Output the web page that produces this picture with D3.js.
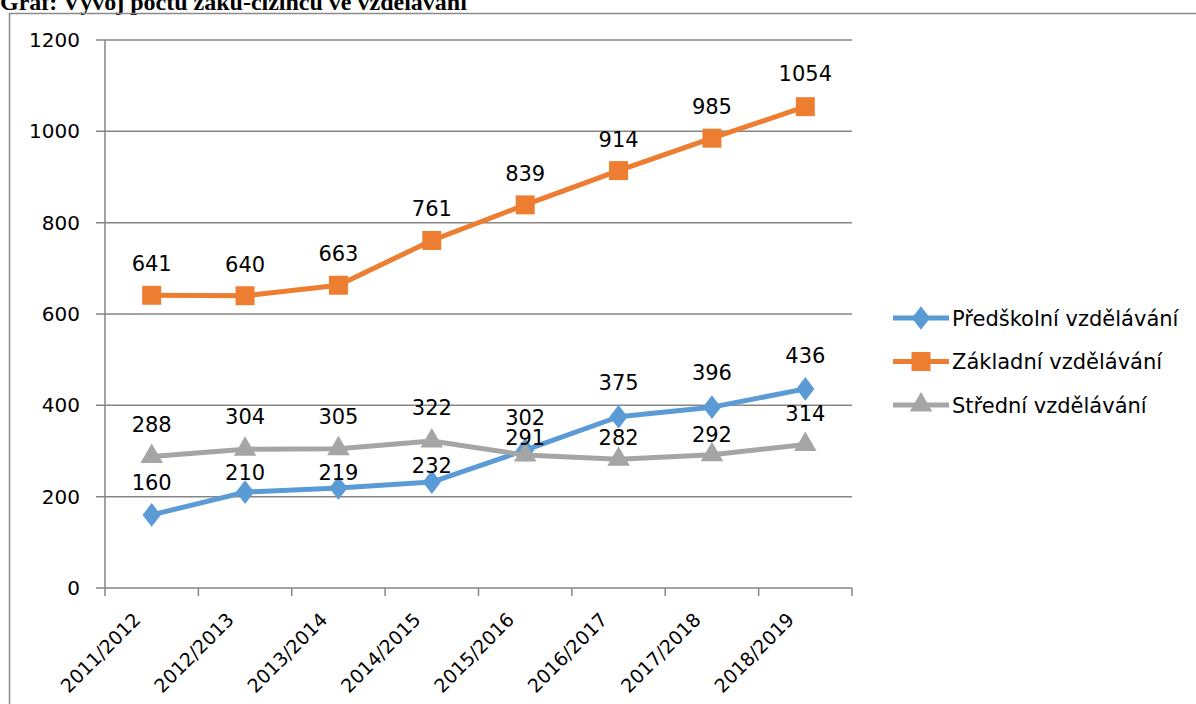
<!DOCTYPE html>
<html><head><meta charset="utf-8">
<script src="https://cdn.jsdelivr.net/npm/d3@7"></script>
<style>body{margin:0;background:#fff;} svg{display:block;}</style>
</head><body>
<svg id="c" width="1196" height="704"></svg>
<script>
const title = "Graf: Vývoj počtu žáků-cizinců ve vzdělávání";
const categories = ["2011/2012","2012/2013","2013/2014","2014/2015","2015/2016","2016/2017","2017/2018","2018/2019"];
const seriesNames = ["Předškolní vzdělávání","Základní vzdělávání","Střední vzdělávání"];
const predskolni = [160,210,219,232,302,375,396,436];
const zakladni = [641,640,663,761,839,914,985,1054];
const stredni = [288,304,305,322,291,282,292,314];
const yTicks = [0,200,400,600,800,1000,1200];
const colors = ["#5B9BD5","#ED7D31","#A5A5A5"];
const markers = [d3.symbolDiamond, d3.symbolSquare, d3.symbolTriangle];

(function(){
// label lift above each point (px), as placed in the original chart
const labelLift = [
  [25,12,8,9,25,27,27,26],
  [24,24,24,24,24,24,24,26],
  [24,25,25,26,10,14,13,24]
];
const series = [predskolni, zakladni, stredni].map((v,i)=>({name:seriesNames[i], values:v, color:colors[i], marker:markers[i], idx:i}));

const svg = d3.select("#c");
const font = "'DejaVu Sans', sans-serif";

svg.append("text").attr("x",0).attr("y",10)
  .attr("font-family","'Liberation Serif', serif").attr("font-weight","bold").attr("font-size",24)
  .attr("fill","#000").text(title);

svg.append("rect").attr("x",9.5).attr("y",13.5).attr("width",1300).attr("height",800)
  .attr("fill","none").attr("stroke","#8a8a8a").attr("stroke-width",1.5);

const pl=105, pr=852, pt=40, pb=588;
const x = d3.scaleBand().domain(categories).range([pl,pr]);
const y = d3.scaleLinear().domain([0,1200]).range([pb,pt]);
const cx = c => x(c)+x.bandwidth()/2;

svg.append("g").selectAll("line").data(yTicks).join("line")
  .attr("x1",pl-9).attr("x2",pr).attr("y1",d=>y(d)).attr("y2",d=>y(d))
  .attr("stroke","#868686").attr("stroke-width",1.5);
svg.append("line").attr("x1",pl).attr("x2",pl).attr("y1",pt).attr("y2",pb)
  .attr("stroke","#868686").attr("stroke-width",1.5);
const bounds = categories.map(c=>x(c)).concat([pr]);
svg.append("g").selectAll("line").data(bounds).join("line")
  .attr("x1",d=>d).attr("x2",d=>d).attr("y1",pb).attr("y2",pb+8)
  .attr("stroke","#868686").attr("stroke-width",1.5);

svg.append("g").selectAll("text").data(yTicks).join("text")
  .attr("x",80).attr("y",d=>y(d)+7).attr("text-anchor","end")
  .attr("font-family",font).attr("font-size",20).attr("fill","#000").text(d=>d);

svg.append("g").selectAll("text").data(categories).join("text")
  .attr("transform",c=>`translate(${cx(c)-10},${pb+33}) rotate(-45)`)
  .attr("text-anchor","end").attr("font-family",font).attr("font-size",19).attr("fill","#000").text(c=>c);

const line = d3.line().x((d,i)=>cx(categories[i])).y(d=>y(d));
const symSize = i => i===1?360:(i===0?200:220);
series.forEach(s=>{
  svg.append("path").datum(s.values).attr("d",line).attr("fill","none")
    .attr("stroke",s.color).attr("stroke-width",5).attr("stroke-linejoin","round");
  svg.append("g").selectAll("path").data(s.values).join("path")
    .attr("d", d3.symbol().type(s.marker).size(symSize(s.idx)))
    .attr("transform",(d,i)=>`translate(${cx(categories[i])},${y(d)})${s.idx===0?" scale(1.2,0.9)":""}`)
    .attr("fill",s.color);
});
series.forEach(s=>{
  svg.append("g").selectAll("text").data(s.values).join("text")
    .attr("x",(d,i)=>cx(categories[i])).attr("y",(d,i)=>y(d)-labelLift[s.idx][i]).attr("text-anchor","middle")
    .attr("font-family",font).attr("font-size",21).attr("fill","#000").text(d=>d);
});

const lg = svg.append("g");
series.forEach((s,i)=>{
  const ly = 318 + i*43.5;
  lg.append("line").attr("x1",893).attr("x2",949).attr("y1",ly).attr("y2",ly)
    .attr("stroke",s.color).attr("stroke-width",5);
  lg.append("path").attr("d",d3.symbol().type(s.marker).size(symSize(i)))
    .attr("transform",`translate(921,${ly})${i===0?" scale(1.2,0.9)":""}`).attr("fill",s.color);
  lg.append("text").attr("x",952).attr("y",ly+7.5).attr("font-family",font).attr("font-size",21)
    .attr("fill","#000").text(s.name);
});
})();
</script>
</body></html>
